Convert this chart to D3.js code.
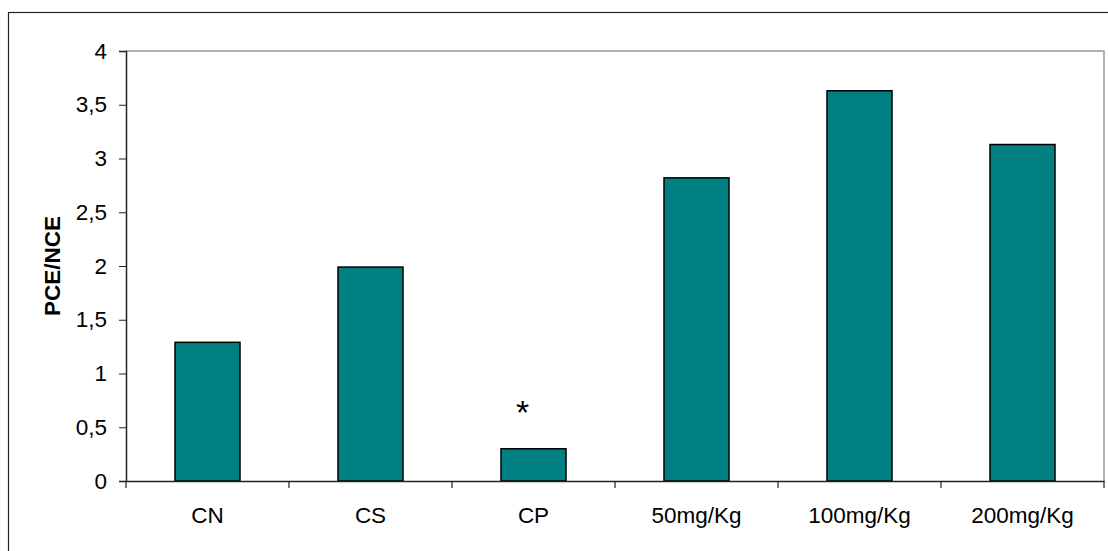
<!DOCTYPE html>
<html><head><meta charset="utf-8">
<script src="https://cdn.jsdelivr.net/npm/d3@7"></script>
<style>body{margin:0;background:#fff}svg{display:block;font-family:"Liberation Sans",Arial,sans-serif}
.t{font-family:"Liberation Sans",Arial,sans-serif;font-size:22.5px;fill:#000}</style>
</head><body><svg id="c" width="1108" height="551"></svg>
<script>
const categories = ["CN","CS","CP","50mg/Kg","100mg/Kg","200mg/Kg"];
const values = [1.29, 1.99, 0.30, 2.82, 3.63, 3.13];
const marks = ["","","*","","",""];
const yTicks = [0,0.5,1,1.5,2,2.5,3,3.5,4];
const yLabel = "PCE/NCE";

const svg = d3.select("#c");
const L=126, R=1104, T=51, B=481;
svg.append("rect").attr("x",8.5).attr("y",12.5).attr("width",1120).attr("height",560)
  .attr("fill","none").attr("stroke","#222").attr("stroke-width",1.2);

const xb = d3.scaleBand().domain(categories).range([L,R]);
const y = d3.scaleLinear().domain([0,4]).range([B,T]);

svg.append("path").attr("d",`M${L},${T}H${R}V${B}`).attr("fill","none").attr("stroke","#999").attr("stroke-width",1.5);

svg.selectAll("rect.bar").data(values).join("rect").attr("class","bar")
  .attr("x",(d,i)=>xb(categories[i])+xb.bandwidth()/2-32.5)
  .attr("width",65)
  .attr("y",d=>y(d)).attr("height",d=>B-y(d))
  .attr("fill","#008080").attr("stroke","#000").attr("stroke-width",1.5);

const ya = svg.append("g").attr("transform",`translate(${L},0)`)
  .call(d3.axisLeft(y).tickValues(yTicks).tickSize(7).tickPadding(12)
    .tickFormat(d=>String(d).replace(".",",")));
ya.select(".domain").attr("stroke","#222").attr("stroke-width",1.5);
ya.selectAll(".tick line").attr("stroke","#222");
ya.selectAll("text").attr("class","t").attr("fill","#000");

const xa = svg.append("g").attr("transform",`translate(0,${B})`)
  .call(d3.axisBottom(xb).tickSize(0));
xa.select(".domain").attr("stroke","#222").attr("stroke-width",1.5);
xa.selectAll("text").attr("class","t").attr("fill","#000").attr("y",42).attr("dy",0);
const bounds = categories.map(c=>xb(c)).concat([R]);
svg.append("g").selectAll("line").data(bounds).join("line")
  .attr("x1",d=>d).attr("x2",d=>d).attr("y1",B).attr("y2",B+7).attr("stroke","#222").attr("stroke-width",1.2);

svg.selectAll("text.mk").data(values).join("text").attr("class","mk")
  .attr("x",(d,i)=>xb(categories[i])+xb.bandwidth()/2-11)
  .attr("y",d=>y(d)-25).attr("text-anchor","middle")
  .style("font-size","34px").style("font-family","Liberation Sans, Arial, sans-serif")
  .text((d,i)=>marks[i]);

svg.append("text").attr("transform",`translate(60,${(T+B)/2}) rotate(-90)`)
  .attr("text-anchor","middle").style("font-size","22.5px").attr("font-weight","bold")
  .style("font-family","Liberation Sans, Arial, sans-serif").text(yLabel);
</script></body></html>
